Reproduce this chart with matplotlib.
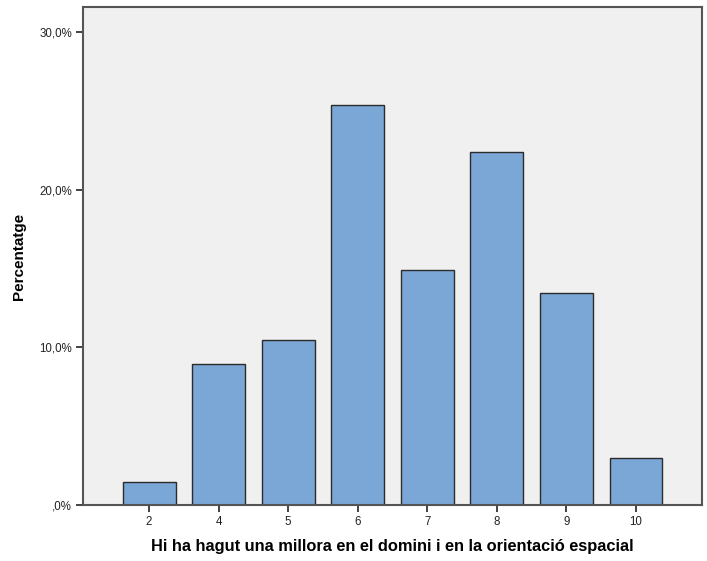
import matplotlib
matplotlib.use("Agg")
import matplotlib.pyplot as plt
from matplotlib.ticker import FuncFormatter

categories = ["2", "4", "5", "6", "7", "8", "9", "10"]
percentages = [1.49, 8.96, 10.45, 25.37, 14.93, 22.39, 13.43, 2.99]
y_ticks = [0, 10, 20, 30]

plt.rcParams['font.family'] = ['Arial', 'Liberation Sans', 'DejaVu Sans']

fig = plt.figure(figsize=(7.07, 5.61), dpi=100)
ax = fig.add_axes([0.1174, 0.0998, 0.8756, 0.8877])
ax.set_facecolor("#F0F0F0")

x = list(range(len(categories)))
ax.bar(x, percentages, width=0.76, color="#7BA7D6", edgecolor="#2b2b2b", linewidth=1.0, zorder=2)

ax.set_xlim(-0.95, len(categories) - 1 + 0.95)
ax.set_ylim(0, 31.58)
ax.set_xticks(x)
ax.set_xticklabels(categories)
ax.set_yticks(y_ticks)

def fmt(v, pos):
    s = f"{v:.1f}".replace(".", ",")
    if s.startswith("0,"):
        s = s[1:]
    return s + "%"
ax.yaxis.set_major_formatter(FuncFormatter(fmt))

ax.tick_params(axis="both", labelsize=8.3, colors="#222222", length=5, width=1.2, direction="out", pad=3)
for sp in ax.spines.values():
    sp.set_color("#555555")
    sp.set_linewidth(1.5)

ax.set_xlabel("Hi ha hagut una millora en el domini i en la orientació espacial",
              fontsize=11.8, fontweight="bold")
ax.xaxis.set_label_coords(0.5, -0.069)
ax.set_ylabel("Percentatge", fontsize=11, fontweight="bold")
ax.yaxis.set_label_coords(-0.092, 0.5)

fig.savefig("out.png", dpi=100)
